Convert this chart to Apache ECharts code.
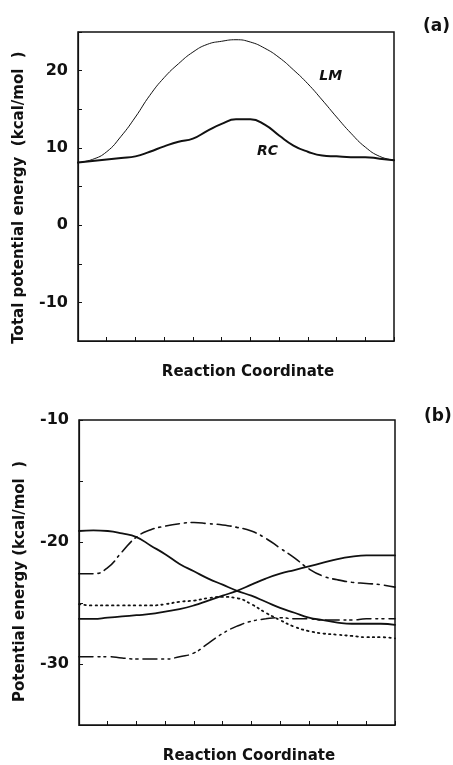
<!DOCTYPE html>
<html><head><meta charset="utf-8">
<script src="https://cdn.jsdelivr.net/npm/echarts@6/dist/echarts.min.js"></script>
<style>html,body{margin:0;padding:0;background:#fff}#c{width:453px;height:765px}</style>
</head><body><div id="c"></div>
<script>
// Reaction coordinate samples
const xs = [0,0.5,1,1.5,2,2.5,3,3.5,4,4.5,5,5.5,6,6.5,7,7.5,8,8.5,9,9.5,10,10.5,11];
// Panel (a): total potential energy
const lm = [8.1,8.5,9.5,11.5,14.0,16.8,19.1,20.9,22.4,23.4,23.8,24.0,23.7,22.9,21.7,20.1,18.3,16.2,14.0,11.9,10.1,8.9,8.4];
const rc = [8.1,8.3,8.5,8.7,8.9,9.5,10.2,10.8,11.2,12.2,13.1,13.7,13.7,13.0,11.6,10.3,9.5,9.0,8.9,8.8,8.8,8.6,8.4];
// Panel (b): potential energy components
const solidDown = [-19.1,-19.05,-19.1,-19.3,-19.6,-20.3,-21.0,-21.8,-22.4,-23.0,-23.5,-24.0,-24.4,-24.9,-25.4,-25.8,-26.2,-26.4,-26.6,-26.7,-26.7,-26.7,-26.8];
const solidUp = [-26.3,-26.3,-26.2,-26.1,-26.0,-25.9,-25.7,-25.5,-25.2,-24.8,-24.4,-24.0,-23.5,-23.0,-22.6,-22.3,-22.0,-21.7,-21.4,-21.2,-21.1,-21.1,-21.1];
const dashDotUpper = [-22.6,-22.6,-22.1,-20.8,-19.6,-19.0,-18.7,-18.5,-18.4,-18.5,-18.6,-18.8,-19.1,-19.7,-20.5,-21.3,-22.2,-22.8,-23.1,-23.3,-23.4,-23.5,-23.7];
const dotted = [-25.1,-25.2,-25.2,-25.2,-25.2,-25.2,-25.1,-24.9,-24.8,-24.6,-24.5,-24.6,-25.1,-25.8,-26.4,-26.95,-27.3,-27.5,-27.6,-27.7,-27.8,-27.8,-27.9];
const dashDotLower = [-29.4,-29.4,-29.4,-29.5,-29.6,-29.6,-29.6,-29.4,-29.1,-28.3,-27.5,-26.9,-26.5,-26.3,-26.2,-26.3,-26.3,-26.4,-26.4,-26.4,-26.3,-26.3,-26.3];
// Tick labels
const yTicksA = [-10,0,10,20];
const yTicksB = [-10,-20,-30];
const labelLM = {text:'LM', x:8.8, y:19.2};
const labelRC = {text:'RC', x:6.6, y:9.6};

const FONT = '"DejaVu Sans", Verdana, sans-serif';
const pair = arr => xs.map((x,i)=>[x,arr[i]]);

const chart = echarts.init(document.getElementById('c'), null, {renderer:'canvas'});

function xAxisCfg(gi){
  return {type:'value', gridIndex:gi, min:0, max:11, interval:1,
    axisLine:{show:true, onZero:false, lineStyle:{color:'#111', width:1.2}},
    axisTick:{show:true, inside:true, length:4, lineStyle:{color:'#111', width:1}},
    axisLabel:{show:false}, splitLine:{show:false},
    name:'Reaction Coordinate', nameLocation:'middle', nameGap:24,
    nameTextStyle:{fontFamily:FONT, fontWeight:'bold', fontSize:15, color:'#111', padding:[0,0,0,24]}};
}
function yAxisCfg(gi, min, max, ticks, name, gap, shift){
  return {type:'value', gridIndex:gi, min:min, max:max, interval:5,
    axisLine:{show:true, onZero:false, lineStyle:{color:'#111', width:1.2}},
    axisTick:{show:true, inside:true, length:4, lineStyle:{color:'#111', width:1}},
    axisLabel:{show:true, margin:10, fontFamily:FONT, fontWeight:'bold', fontSize:16, color:'#111',
      formatter: v => ticks.indexOf(v) >= 0 ? String(v) : ''},
    splitLine:{show:false},
    name:name, nameLocation:'middle', nameRotate:90, nameGap:gap,
    nameTextStyle:{fontFamily:FONT, fontWeight:'bold', fontSize:15, color:'#111', padding:[0, shift, 0, 0]}};
}
function line(name, gi, arr, width, type){
  return {name:name, type:'line', xAxisIndex:gi, yAxisIndex:gi, data:pair(arr),
    smooth:0.5, showSymbol:false, symbol:'none', silent:true,
    lineStyle:{color:'#111', width:width, type:type||'solid', cap:'round'}};
}
function annot(l){
  return {symbol:'circle', symbolSize:0, silent:true,
    label:{show:true, position:'inside', formatter:l.text, fontFamily:FONT, fontWeight:'bold', fontStyle:'italic', fontSize:14, color:'#111'},
    data:[{coord:[l.x, l.y]}]};
}

const sLM = line('LM', 0, lm, 1);
sLM.markPoint = annot(labelLM);
const sRC = line('RC', 0, rc, 2);
sRC.markPoint = annot(labelRC);

chart.setOption({
  backgroundColor:'#fff',
  animation:false,
  grid:[
    {left:78, top:32, width:316, height:309, show:true, borderColor:'#111', borderWidth:1.5, containLabel:false},
    {left:79, top:420, width:316, height:308, show:true, borderColor:'#111', borderWidth:1.5, containLabel:false}
  ],
  xAxis:[xAxisCfg(0), xAxisCfg(1)],
  yAxis:[
    yAxisCfg(0, -15, 25, yTicksA, 'Total potential energy  (kcal/mol  )', 51, 22),
    yAxisCfg(1, -35, -10, yTicksB, 'Potential energy (kcal/mol  )', 51, 18)
  ],
  title:[
    {text:'(a)', left:418, top:13, textStyle:{fontFamily:FONT, fontWeight:'bold', fontSize:17, color:'#111'}},
    {text:'(b)', left:419, top:403, textStyle:{fontFamily:FONT, fontWeight:'bold', fontSize:17, color:'#111'}}
  ],
  series:[
    sLM, sRC,
    line('Solid 1', 1, solidDown, 1.8),
    line('Solid 2', 1, solidUp, 1.8),
    line('Dash-dot', 1, dashDotUpper, 1.6, [14,5,2,5]),
    line('Dotted', 1, dotted, 1.8, [1.5,4]),
    line('Dash-dot-dot', 1, dashDotLower, 1.5, [14,5,2,4,2,5])
  ]
});
</script></body></html>
